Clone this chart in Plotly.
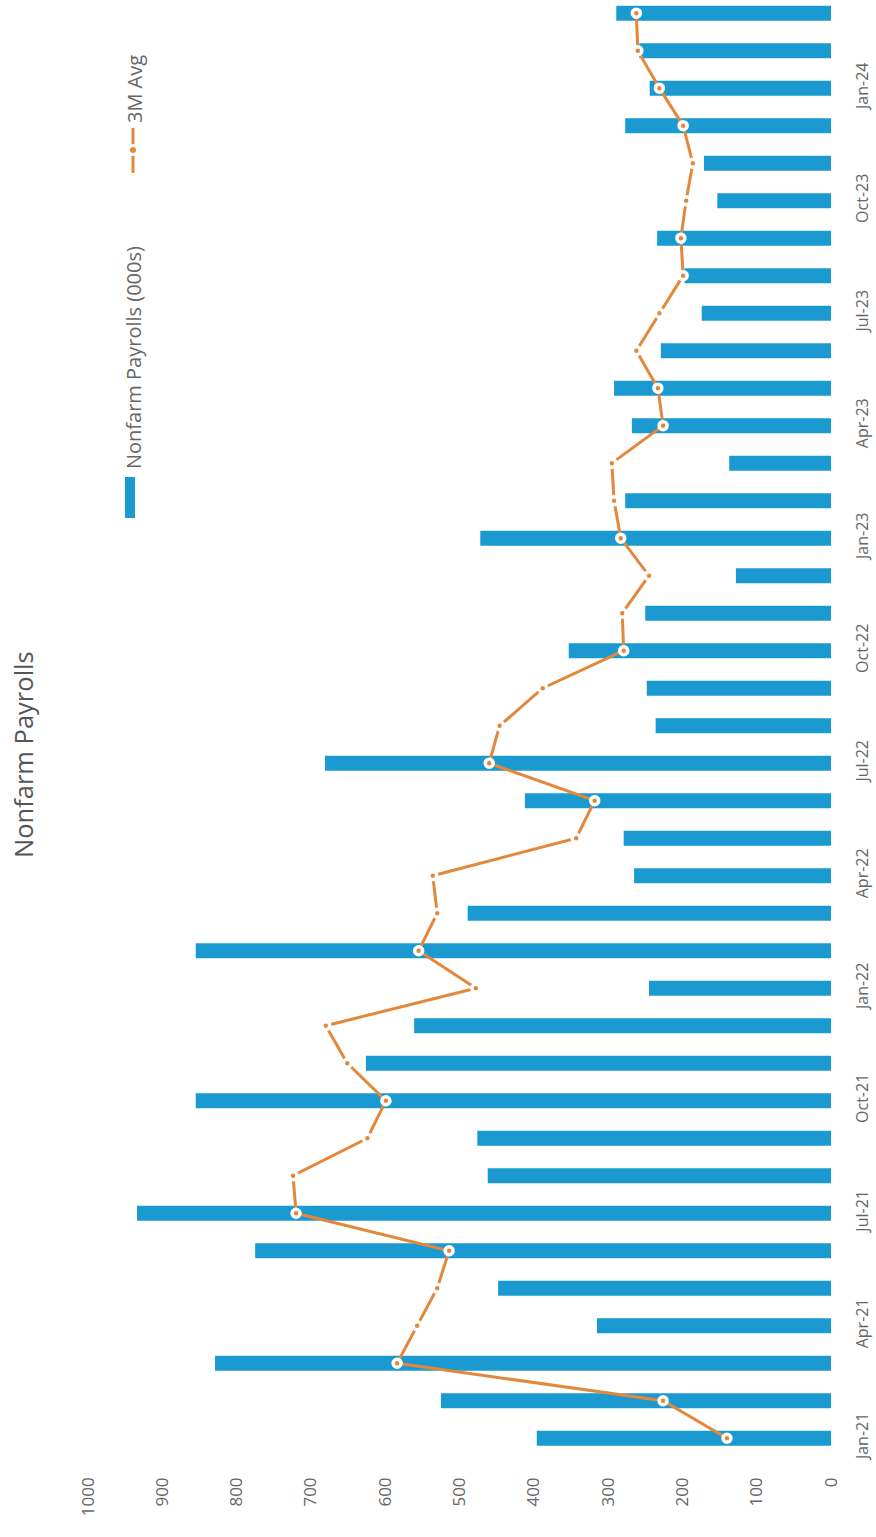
import plotly.graph_objects as go

months = [
    "Jan-21", "Feb-21", "Mar-21", "Apr-21", "May-21", "Jun-21", "Jul-21", "Aug-21", "Sep-21", "Oct-21", "Nov-21", "Dec-21",
    "Jan-22", "Feb-22", "Mar-22", "Apr-22", "May-22", "Jun-22", "Jul-22", "Aug-22", "Sep-22", "Oct-22", "Nov-22", "Dec-22",
    "Jan-23", "Feb-23", "Mar-23", "Apr-23", "May-23", "Jun-23", "Jul-23", "Aug-23", "Sep-23", "Oct-23", "Nov-23", "Dec-23",
    "Jan-24", "Feb-24", "Mar-24",
]

payrolls = [
    396, 525, 829, 315, 448, 775, 934, 462, 476, 855, 626, 561,
    245, 855, 489, 265, 279, 412, 681, 236, 248, 353, 250, 128,
    472, 277, 137, 268, 292, 229, 174, 197, 234, 153, 171, 277,
    244, 258, 289,
]

avg_3m = [
    140, 226, 584, 557, 530, 514, 720, 724, 624, 599, 651, 680,
    478, 555, 530, 536, 343, 318, 460, 446, 388, 279, 281, 245,
    283, 292, 295, 226, 233, 262, 231, 199, 202, 195, 186, 199,
    231, 260, 262,
]

tick_months = months[::3]
value_ticks = [0, 100, 200, 300, 400, 500, 600, 700, 800, 900, 1000]

BLUE = "#1A9AD0"
ORANGE = "#E3883A"
GREY = "#666666"
FONT = "Open Sans"

W, H = 876, 1537
ML, MR, MT, MB = 88, 45, 0, 80
PW = W - ML - MR
PH = H - MT - MB


def px(xp):
    return (xp - ML) / PW


def py(yp):
    return (MT + PH - yp) / PH


fig = go.Figure()
fig.add_trace(go.Bar(
    x=payrolls, y=months, orientation="h", width=0.4,
    marker=dict(color=BLUE, line=dict(width=0)),
    name="Nonfarm Payrolls (000s)",
))
fig.add_trace(go.Scatter(
    x=avg_3m, y=months, mode="lines+markers",
    line=dict(color=ORANGE, width=3),
    marker=dict(color=ORANGE, size=8, line=dict(color="white", width=3.5)),
    name="3M Avg",
))

annotations = [
    dict(text="Nonfarm Payrolls", textangle=-90, xref="paper", yref="paper",
         x=px(23), y=py(755), xanchor="center", yanchor="middle", showarrow=False,
         font=dict(family=FONT, size=25.5, color="#555555")),
    dict(text="Nonfarm Payrolls (000s)", textangle=-90, xref="paper", yref="paper",
         x=px(133), y=py(358), xanchor="center", yanchor="middle", showarrow=False,
         font=dict(family=FONT, size=20, color=GREY)),
    dict(text="3M Avg", textangle=-90, xref="paper", yref="paper",
         x=px(134), y=py(89), xanchor="center", yanchor="middle", showarrow=False,
         font=dict(family=FONT, size=20, color=GREY)),
]

shapes = [
    dict(type="rect", xref="paper", yref="paper", x0=px(125), x1=px(135), y0=py(518), y1=py(477),
         fillcolor=BLUE, line=dict(width=0)),
    dict(type="line", xref="paper", yref="paper", x0=px(133), x1=px(133), y0=py(173), y1=py(128),
         line=dict(color=ORANGE, width=3)),
    dict(type="circle", xref="paper", yref="paper", x0=px(127), x1=px(139), y0=py(156), y1=py(144),
         fillcolor="white", line=dict(width=0)),
    dict(type="circle", xref="paper", yref="paper", x0=px(130), x1=px(136), y0=py(153), y1=py(147),
         fillcolor=ORANGE, line=dict(width=0)),
]

fig.update_layout(
    width=W, height=H,
    margin=dict(l=ML, r=MR, t=MT, b=MB, pad=0),
    paper_bgcolor="white", plot_bgcolor="white",
    showlegend=False,
    annotations=annotations,
    shapes=shapes,
    font=dict(family=FONT, color=GREY),
    xaxis=dict(
        range=[1000, 0], tickvals=value_ticks, ticktext=[str(v) for v in value_ticks],
        tickangle=-90, showgrid=False, zeroline=False, showline=False,
        tickfont=dict(family=FONT, size=17, color=GREY), ticklabelstandoff=16,
    ),
    yaxis=dict(
        type="category", categoryorder="array", categoryarray=months,
        range=[-0.5, 38.35], side="right",
        tickvals=tick_months, ticktext=tick_months,
        tickangle=-90, showgrid=False, zeroline=False, showline=False,
        tickfont=dict(family=FONT, size=16, color=GREY), ticklabelstandoff=20,
    ),
)

fig.write_html("out.html")
